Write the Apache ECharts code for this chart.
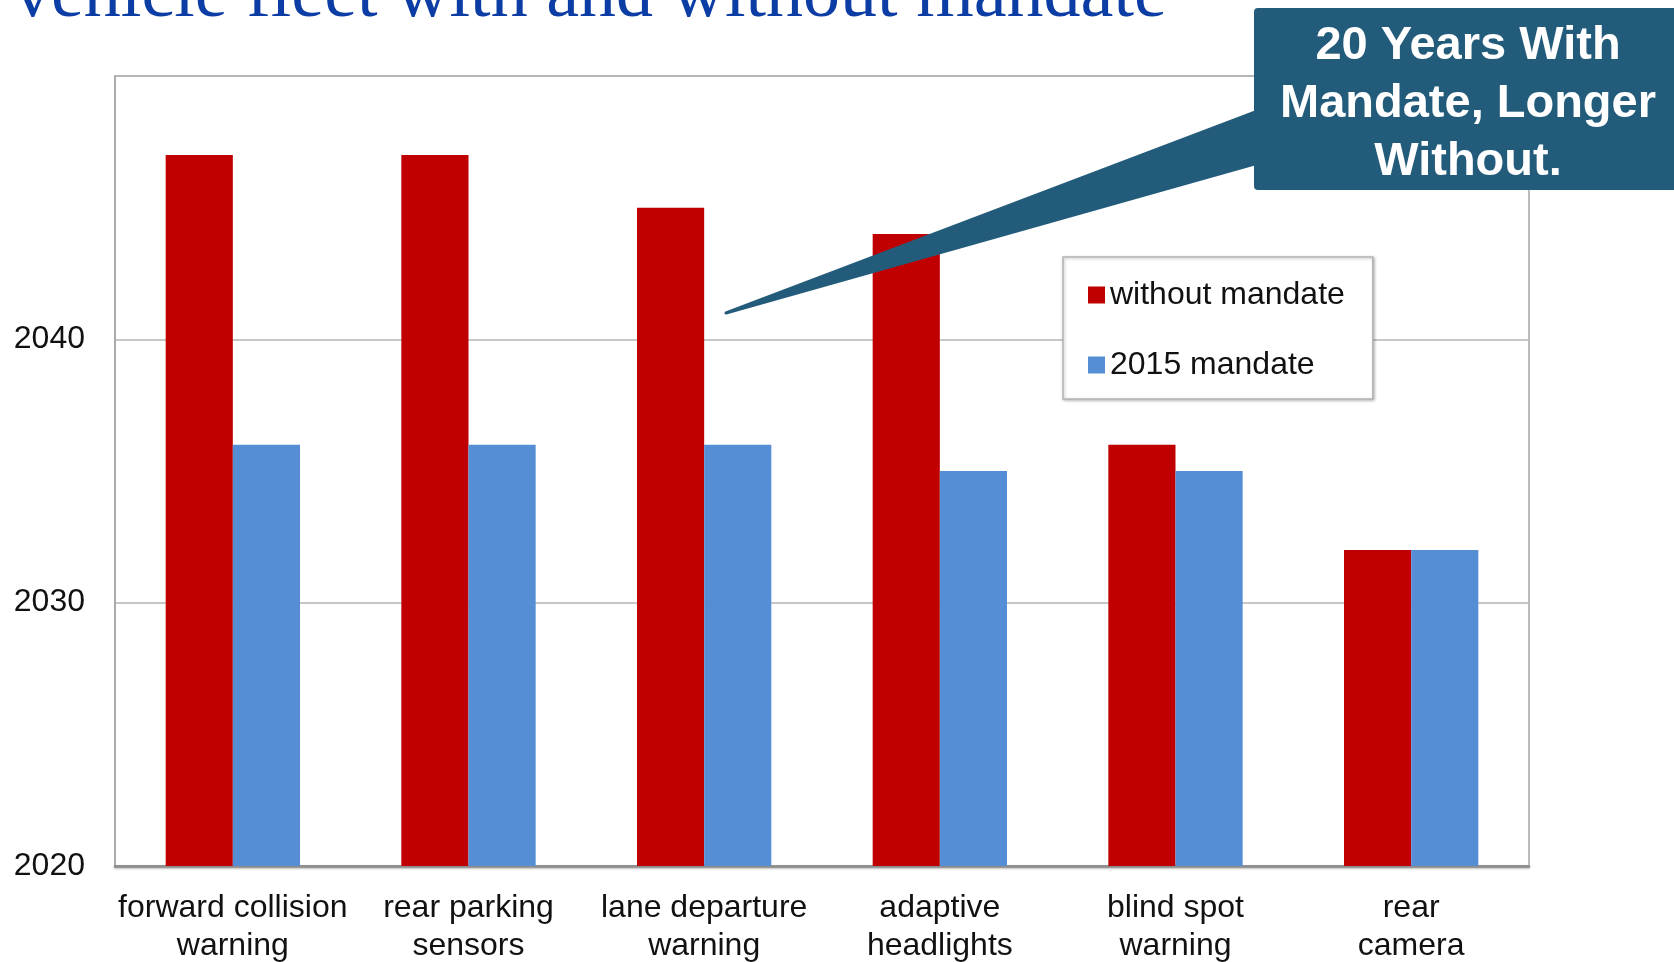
<!DOCTYPE html>
<html>
<head>
<meta charset="utf-8">
<script src="https://cdn.jsdelivr.net/npm/echarts@6/dist/echarts.min.js"></script>
<style>
  html, body { margin: 0; padding: 0; background: #fff; }
  #main { width: 1674px; height: 962px; }
</style>
</head>
<body>
<div id="main"></div>
<script>
var categories = [
  'forward collision\nwarning',
  'rear parking\nsensors',
  'lane departure\nwarning',
  'adaptive\nheadlights',
  'blind spot\nwarning',
  'rear\ncamera'
];
var withoutMandate = [2047, 2047, 2045, 2044, 2036, 2032];
var mandate2015 = [2036, 2036, 2036, 2035, 2035, 2032];
var seriesNames = ['without mandate', '2015 mandate'];
var calloutText = '20 Years With\nMandate, Longer\nWithout.';
var titleText = 'vehicle fleet with and without mandate';

var myChart = echarts.init(document.getElementById('main'));
var font = 'Liberation Sans, Arial, sans-serif';

var option = {
  backgroundColor: '#fff',
  color: ['#C00000', '#558ED5'],
  animation: false,
  grid: {
    left: 115,
    right: 145,
    top: 76,
    bottom: 96,
    outerBoundsMode: 'none',
    show: true,
    borderColor: '#a6a6a6',
    borderWidth: 1.5
  },
  legend: {
    orient: 'vertical',
    left: 1063,
    top: 257,
    padding: [22, 28, 18, 25],
    itemGap: 38,
    itemWidth: 17,
    itemHeight: 17,
    icon: 'rect',
    backgroundColor: '#fff',
    borderColor: '#b4b4b4',
    borderWidth: 1.5,
    shadowColor: 'rgba(0,0,0,0.25)',
    shadowBlur: 3,
    shadowOffsetX: 1,
    shadowOffsetY: 1,
    textStyle: { fontFamily: font, fontSize: 32, color: '#111' },
    data: seriesNames
  },
  xAxis: {
    type: 'category',
    data: categories,
    axisTick: { show: false },
    axisLine: {
      lineStyle: {
        color: '#8c8c8c',
        width: 2.5,
        shadowColor: 'rgba(0,0,0,0.3)',
        shadowBlur: 2,
        shadowOffsetY: 1
      }
    },
    axisLabel: {
      interval: 0,
      margin: 23,
      fontFamily: font,
      fontSize: 32,
      lineHeight: 38,
      color: '#111'
    }
  },
  yAxis: {
    type: 'value',
    min: 2020,
    max: 2050,
    interval: 10,
    axisLine: { show: true, lineStyle: { color: '#a6a6a6', width: 1.5 } },
    axisTick: { show: false },
    splitLine: { lineStyle: { color: '#b4b4b4', width: 1.5 } },
    axisLabel: {
      showMaxLabel: false,
      margin: 30,
      formatter: function (v) { return String(v); },
      fontFamily: font,
      fontSize: 32,
      color: '#111'
    }
  },
  graphic: [
    {
      // title cut off at the top
      type: 'text',
      left: 14,
      top: -40,
      z: 100,
      style: {
        text: titleText,
        fontFamily: 'Liberation Serif, Times New Roman, serif',
        fontSize: 74,
        fill: '#0b3da4'
      }
    },
    {
      // callout pointer
      type: 'polygon',
      z: 100,
      shape: { points: [[726, 313], [1258, 111], [1258, 163]] },
      style: { fill: '#235b7b', stroke: '#235b7b', lineWidth: 3, lineJoin: 'round' }
    },
    {
      type: 'rect',
      z: 100,
      shape: { x: 1254, y: 8, width: 440, height: 182, r: 4 },
      style: { fill: '#235b7b' }
    },
    {
      type: 'text',
      x: 1468,
      y: 104,
      z: 101,
      style: {
        text: calloutText,
        fontFamily: font,
        fontWeight: 'bold',
        fontSize: 47,
        lineHeight: 58,
        fill: '#fff',
        align: 'center',
        verticalAlign: 'middle'
      }
    }
  ],
  series: [
    {
      name: seriesNames[0],
      type: 'bar',
      barGap: '0%',
      barCategoryGap: '43%',
      data: withoutMandate
    },
    {
      name: seriesNames[1],
      type: 'bar',
      barGap: '0%',
      barCategoryGap: '43%',
      data: mandate2015
    }
  ]
};
myChart.setOption(option);
</script>
</body>
</html>
